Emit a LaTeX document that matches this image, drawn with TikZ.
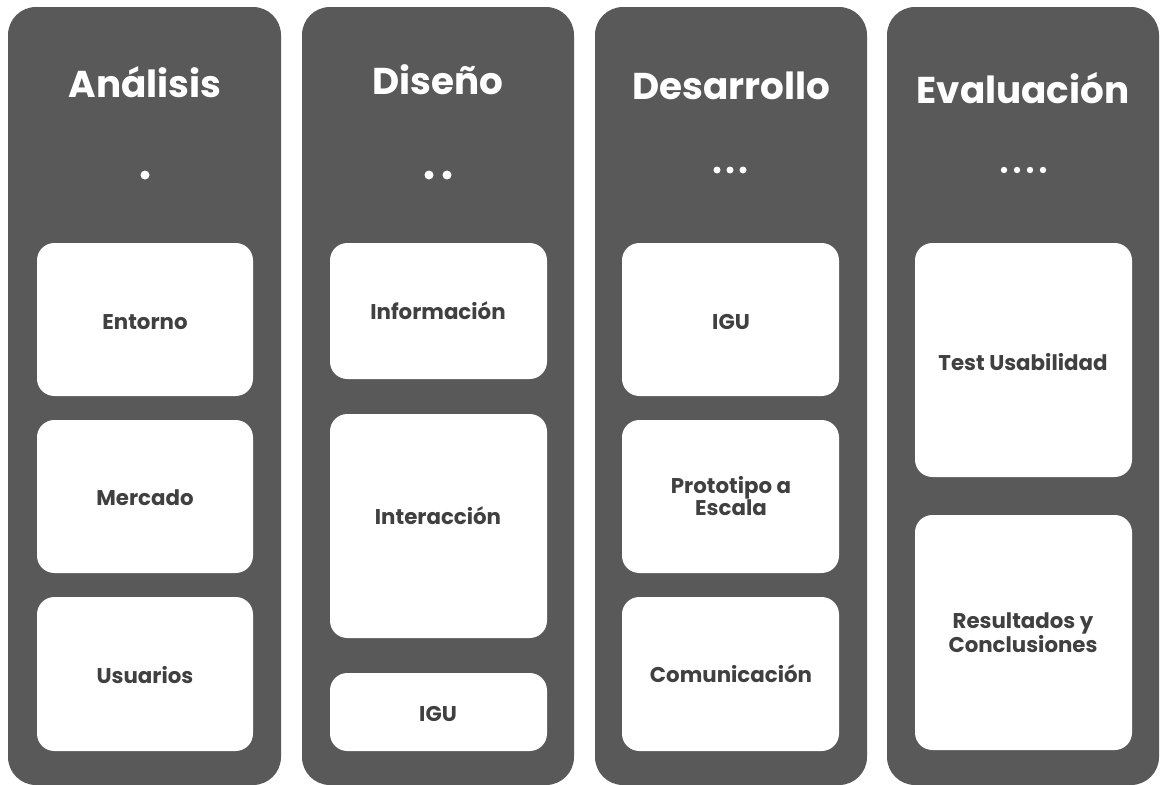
\documentclass[tikz,border=0pt]{standalone}
\usepackage{fontspec}
\setmainfont{Poppins}
\definecolor{columna}{RGB}{89,89,89}
\definecolor{textocaja}{RGB}{64,64,64}
\tikzset{
  fase/.style={fill=columna, draw=none, rounded corners=21pt},
  caja/.style={fill=white, draw=none, rounded corners=13pt},
  titulo/.style={text=white, font=\fontsize{28}{33}\selectfont\bfseries, inner sep=0.75pt},
  etiqueta/.style={text=textocaja, font=\fontsize{16}{17}\selectfont\bfseries, align=center, inner sep=0.75pt},
  punto/.style={fill=white, draw=none}
}
\begin{document}
\begin{tikzpicture}[x=0.75pt,y=0.75pt,yscale=-1,xscale=1]
\useasboundingbox (0,0) rectangle (1160,785);
\clip (0,0) rectangle (1160,785);

%Shape: Columns
\draw [fase] (8,7) rectangle (281,785) ;
\draw [fase] (302,7) rectangle (574,785) ;
\draw [fase] (595,7) rectangle (867,785) ;
\draw [fase] (887,7) rectangle (1159,785) ;

% Text Node
\node [titulo] (analisis) at (145,82) {Análisis};
\node [titulo] (diseno) at (438,80) {Diseño};
\node [titulo] (desarrollo) at (731,86) {Desarrollo};
\node [titulo] (evaluacion) at (1023,88) {Evaluación};

%Shape: Circle
\fill [punto] (145,175) circle (4.5) ;
\foreach \x in {429,447} \fill [punto] (\x,175) circle (4.5) ;
\foreach \x in {717,730,743} \fill [punto] (\x,170) circle (3.5) ;
\foreach \x in {1004,1017,1030,1043} \fill [punto] (\x,170) circle (3.2) ;

%Shape: Rounded Rect
\draw [caja] (37,243) rectangle (253,396) ;
\draw [caja] (37,420) rectangle (253,573) ;
\draw [caja] (37,597) rectangle (253,751) ;

\draw [caja] (330,243) rectangle (547,379) ;
\draw [caja] (330,414) rectangle (547,638) ;
\draw [caja] (330,673) rectangle (547,751) ;

\draw [caja] (622,243) rectangle (839,396) ;
\draw [caja] (622,420) rectangle (839,573) ;
\draw [caja] (622,597) rectangle (839,751) ;

\draw [caja] (915,243) rectangle (1132,477) ;
\draw [caja] (915,515) rectangle (1132,750) ;

% Text Node
\node [etiqueta] (entorno) at (145,322) {Entorno};
\node [etiqueta] (mercado) at (145,498) {Mercado};
\node [etiqueta] (usuarios) at (145,675) {Usuarios};

\node [etiqueta] (informacion) at (438,311) {Información};
\node [etiqueta] (interaccion) at (438,516) {Interacción};
\node [etiqueta] (igudiseno) at (438,714) {IGU};

\node [etiqueta] (igudesarrollo) at (731,322) {IGU};
\node [etiqueta] (prototipo) at (731,496) {Prototipo a\\Escala};
\node [etiqueta] (comunicacion) at (731,674) {Comunicación};

\node [etiqueta] (test) at (1023,362) {Test Usabilidad};
\node [etiqueta] (resultados) at (1023,633) {Resultados y\\Conclusiones};

\end{tikzpicture}
\end{document}
